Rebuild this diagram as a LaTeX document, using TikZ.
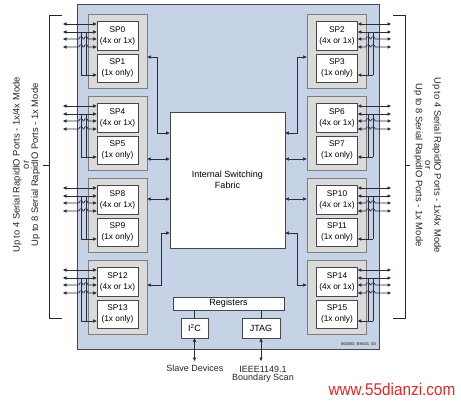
\documentclass[tikz,border=0pt]{standalone}
\usepackage{fontspec}
\setmainfont{Liberation Sans}
\usepackage{graphicx}
\usetikzlibrary{arrows.meta}
\definecolor{bluebg}{RGB}{198,210,230}
\definecolor{grpfill}{RGB}{218,218,218}
\definecolor{grpline}{RGB}{125,125,125}
\definecolor{boxline}{RGB}{70,70,75}
\definecolor{linec}{RGB}{40,45,60}
\definecolor{wm}{RGB}{225,40,40}
\begin{document}
\begin{tikzpicture}[x=1pt,y=-1pt,
  tip/.style={-{Triangle[length=3.5pt,width=3.2pt]}},
  both/.style={{Triangle[length=3.5pt,width=3.2pt]}-{Triangle[length=3.5pt,width=3.2pt]}},
  conn/.style={draw=linec,line width=0.6pt},
  grp/.style={draw=grpline,fill=grpfill,line width=0.8pt,minimum width=59pt,minimum height=74pt,inner sep=0pt},
  spbox/.style={draw=boxline,fill=white,line width=0.7pt,minimum width=41pt,inner sep=0pt,align=center,font=\fontsize{8.3}{11}\selectfont},
  plainbox/.style={draw=boxline,fill=white,line width=0.7pt,inner sep=0pt,align=center,font=\fontsize{9}{11}\selectfont},
  bracket/.style={draw=black!85,line width=0.7pt},
  sidetext/.style={align=center,font=\fontsize{9.4}{9.3}\selectfont,text=black!85},
  label/.style={font=\fontsize{9}{8.5}\selectfont,align=center,text=black!85}
]
\useasboundingbox (0,0) rectangle (461,400);
\fill[white] (0,0) rectangle (461,400);

% chip outline
\node[draw=boxline,fill=bluebg,line width=0.9pt,minimum width=302pt,minimum height=345pt,inner sep=0pt] (chip) at (228,176.5) {};

% fabric
\node[plainbox,minimum width=115pt,minimum height=136pt] (F) at (227.5,180) {Internal Switching\\Fabric};

% left port groups
\foreach \g/\a/\b in {14/0/1,96/4/5,178/8/9,260/12/13}{
  \node[grp] (G\a) at (117.5,\g+37) {};
  \node[spbox,minimum height=29pt] (SP\a) at (117.5,\g+21.5) {SP\a\\(4x or 1x)};
  \node[spbox,minimum height=28pt] (SP\b) at (117.5,\g+54) {SP\b\\(1x only)};
  \coordinate (La\a) at (63,\g+10);
  \coordinate (Lb\a) at (63,\g+18);
  \coordinate (Lc\a) at (63,\g+25);
  \coordinate (Ld\a) at (63,\g+33);
  \coordinate (Va\a) at (81,\g+18);
  \coordinate (Vb\a) at (86,\g+18);
  \coordinate (Vc\b) at (81,\g+61);
  \coordinate (Vd\b) at (86,\g+61);
  \draw[conn] (Va\a) -- (Vc\b);
  \draw[conn] (Vb\a) -- (Vd\b);
  \draw[conn,tip] (Vc\b) -- (Vc\b -| SP\b.west);
  \draw[conn,both] (La\a) -- (La\a -| SP\a.west);
  \draw[conn,both] (Lb\a) -- (Lb\a -| SP\a.west);
  \draw[conn,both] (Lc\a) -- ++(16,0) .. controls +(0,-3) and +(0,-3) .. ++(4,0) -- ++(1,0) .. controls +(0,-3) and +(0,-3) .. ++(4,0) -- (Lc\a -| SP\a.west);
  \draw[conn,both] (Ld\a) -- ++(16,0) .. controls +(0,-3) and +(0,-3) .. ++(4,0) -- ++(1,0) .. controls +(0,-3) and +(0,-3) .. ++(4,0) -- (Ld\a -| SP\a.west);
}

% right port groups
\foreach \g/\a/\b in {14/2/3,96/6/7,178/10/11,260/14/15}{
  \node[grp] (G\a) at (336.5,\g+37) {};
  \node[spbox,minimum height=29pt] (SP\a) at (337,\g+21.5) {SP\a\\(4x or 1x)};
  \node[spbox,minimum height=28pt] (SP\b) at (337,\g+54) {SP\b\\(1x only)};
  \coordinate (La\a) at (391,\g+10);
  \coordinate (Lb\a) at (391,\g+18);
  \coordinate (Lc\a) at (391,\g+25);
  \coordinate (Ld\a) at (391,\g+33);
  \coordinate (Va\a) at (373,\g+18);
  \coordinate (Vb\a) at (368,\g+18);
  \coordinate (Vc\b) at (373,\g+61);
  \coordinate (Vd\b) at (368,\g+61);
  \draw[conn] (Va\a) -- (Vc\b);
  \draw[conn] (Vb\a) -- (Vd\b);
  \draw[conn,tip] (Vc\b) -- (Vc\b -| SP\b.east);
  \draw[conn,both] (La\a) -- (La\a -| SP\a.east);
  \draw[conn,both] (Lb\a) -- (Lb\a -| SP\a.east);
  \draw[conn,both] (Lc\a) -- ++(-16,0) .. controls +(0,-3) and +(0,-3) .. ++(-4,0) -- ++(-1,0) .. controls +(0,-3) and +(0,-3) .. ++(-4,0) -- (Lc\a -| SP\a.east);
  \draw[conn,both] (Ld\a) -- ++(-16,0) .. controls +(0,-3) and +(0,-3) .. ++(-4,0) -- ++(-1,0) .. controls +(0,-3) and +(0,-3) .. ++(-4,0) -- (Ld\a -| SP\a.east);
}

% group to fabric connectors, left
\coordinate (c0) at (157,57);   \coordinate (c0b) at (157,133);
\draw[conn,both] (c0 -| G0.east) -- (c0) -- (c0b) -- (c0b -| F.west);
\coordinate (c4) at (158,159);
\draw[conn,both] (c4 -| G4.east) -- (c4 -| F.west);
\coordinate (c8) at (158,199);
\draw[conn,both] (c8 -| G8.east) -- (c8 -| F.west);
\coordinate (c12) at (161,285); \coordinate (c12b) at (161,233);
\draw[conn,both] (c12 -| G12.east) -- (c12) -- (c12b) -- (c12b -| F.west);

% right
\coordinate (c2) at (297,57);   \coordinate (c2b) at (297,133);
\draw[conn,both] (c2 -| G2.west) -- (c2) -- (c2b) -- (c2b -| F.east);
\coordinate (c6) at (296,159);
\draw[conn,both] (c6 -| G6.west) -- (c6 -| F.east);
\coordinate (c10) at (296,199);
\draw[conn,both] (c10 -| G10.west) -- (c10 -| F.east);
\coordinate (c14) at (297,285); \coordinate (c14b) at (297,233);
\draw[conn,both] (c14 -| G14.west) -- (c14) -- (c14b) -- (c14b -| F.east);

% registers, I2C, JTAG
\node[plainbox,minimum width=111pt,minimum height=13pt] (R) at (228.5,303.5) {Registers};
\node[plainbox,minimum width=27pt,minimum height=20pt] (I2C) at (194.5,328) {I\textsuperscript{2}C};
\node[plainbox,minimum width=38pt,minimum height=20pt] (JT) at (261,328) {JTAG};
\draw[conn] (I2C.north) -- (I2C.north |- R.south);
\draw[conn] (JT.north) -- (JT.north |- R.south);
\coordinate (sd) at (194.5,361);
\coordinate (bs) at (261,361);
\draw[conn,both] (I2C.south) -- (sd);
\draw[conn,both] (JT.south) -- (bs);
\node[label,anchor=base] (sdt) at (195,371) {Slave Devices};
\node[label,anchor=north] (bst) at (263,362.5) {IEEE1149.1\\Boundary Scan};

% brackets
\draw[bracket] (62,15) -- (49,15) -- (49,318) -- (62,318);
\draw[bracket] (49,165) -- (43,165);
\draw[bracket] (393,15) -- (405,15) -- (405,318) -- (393,318);
\draw[bracket] (405,165) -- (410,165);

\node[sidetext,rotate=90] (lt) at (26.5,165) {Up to 4 Serial RapidIO Ports - 1x/4x Mode\\or\\Up to 8 Serial RapidIO Ports - 1x Mode};
\node[sidetext,rotate=-90] (rt) at (427.5,165) {Up to 4 Serial RapidIO Ports - 1x/4x Mode\\or\\Up to 8 Serial RapidIO Ports - 1x Mode};

% tiny figure id
\node[font=\fontsize{4}{4}\selectfont\bfseries,text=black!70,anchor=base east,inner sep=0pt] (fid) at (376,345.5) {000003\_BK001\_00};

% watermark
\node[text=wm,anchor=base,inner sep=0pt] (wmk) at (392,395) {\scalebox{0.9}[1]{\fontsize{17}{17}\selectfont www.55dianzi.com}};
\end{tikzpicture}
\end{document}
